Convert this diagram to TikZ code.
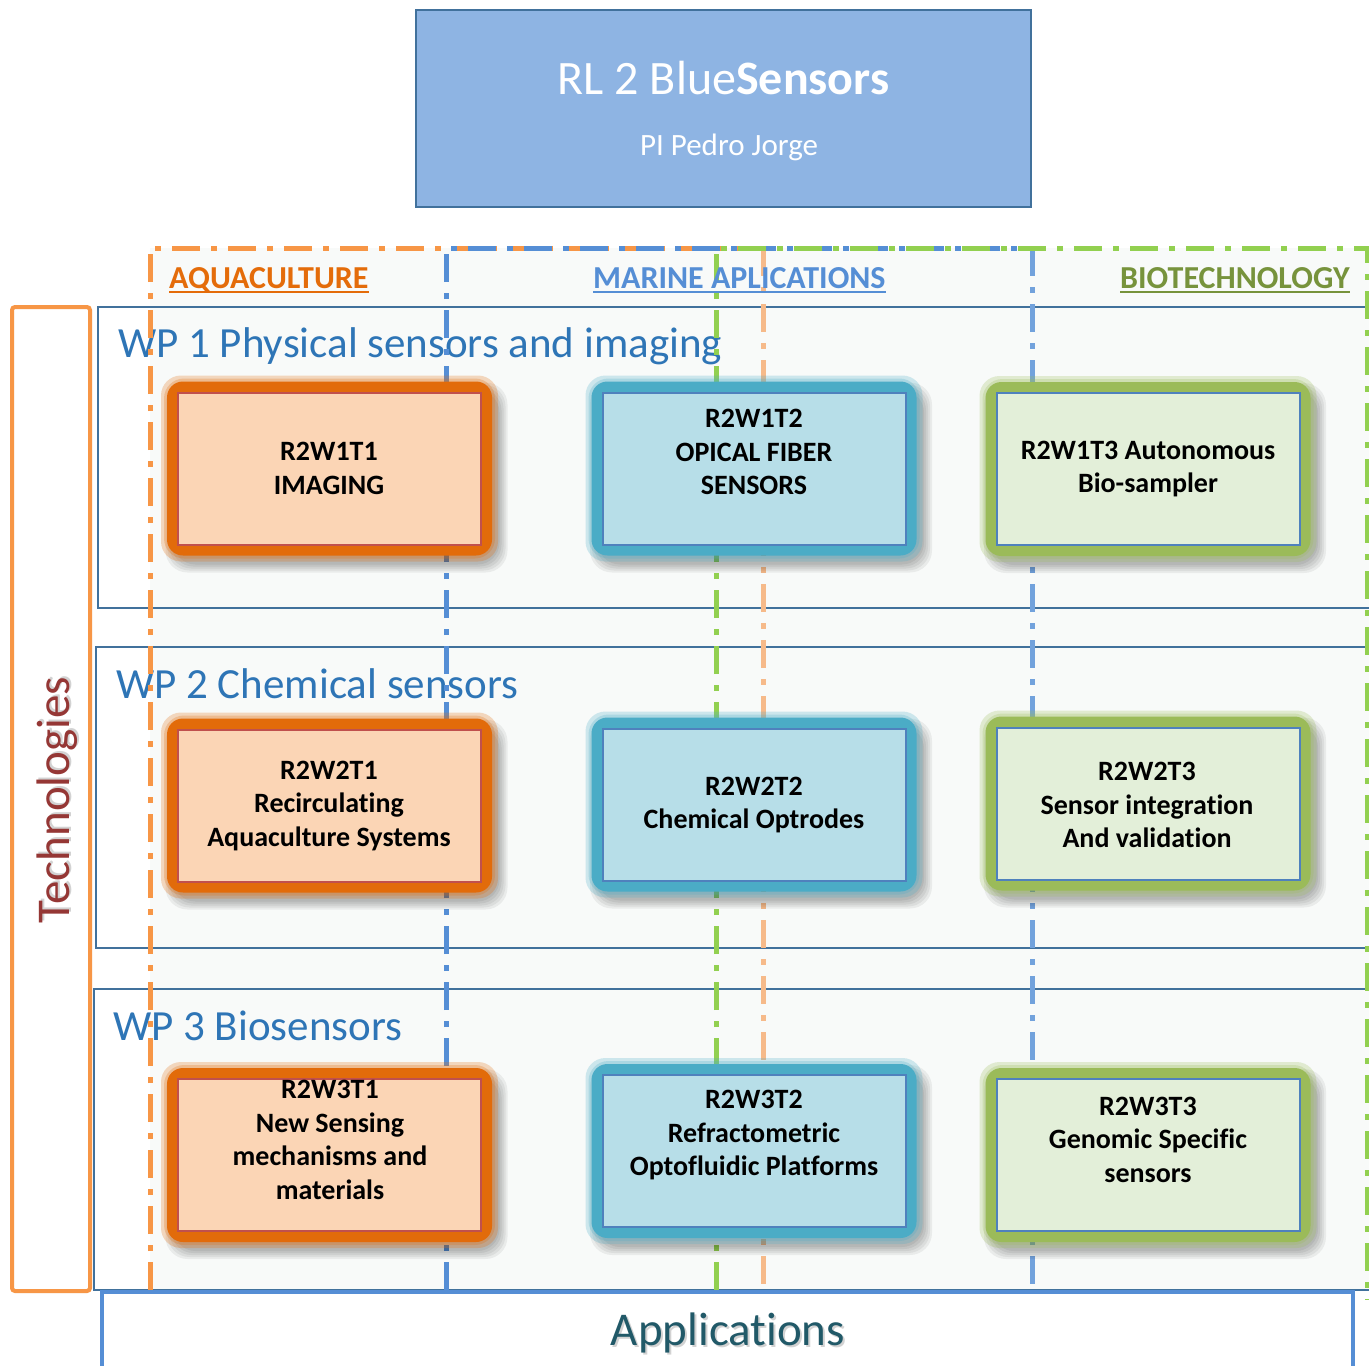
\documentclass[tikz,border=0pt]{standalone}
\usepackage{fontspec}
\setmainfont{Carlito}[Ligatures=NoCommon]
\definecolor{orangeDash}{HTML}{F79646}
\definecolor{orangeDashL}{HTML}{F6BA8A}
\definecolor{blueDash}{HTML}{558ED5}
\definecolor{blueDashL}{HTML}{72A2DC}
\definecolor{greenDash}{HTML}{92D050}
\definecolor{colbg}{HTML}{F8FAF9}
\definecolor{wpline}{HTML}{41719C}
\definecolor{wptext}{HTML}{2E75B6}
\definecolor{aquaC}{HTML}{E46C0A}
\definecolor{marineC}{HTML}{558ED5}
\definecolor{bioC}{HTML}{77933C}
\definecolor{techC}{HTML}{953735}
\definecolor{techBox}{HTML}{F79646}
\definecolor{appBox}{HTML}{558ED5}
\definecolor{appText}{HTML}{215968}
\definecolor{titleF}{HTML}{8EB4E3}
\definecolor{titleB}{HTML}{41719C}
\definecolor{oGlow}{HTML}{E26B0A}
\definecolor{oFill}{HTML}{FBD5B5}
\definecolor{oBord}{HTML}{C0504D}
\definecolor{bGlow}{HTML}{4BACC6}
\definecolor{bFill}{HTML}{B7DEE8}
\definecolor{bBord}{HTML}{4F81BD}
\definecolor{gGlow}{HTML}{9BBB59}
\definecolor{gFill}{HTML}{E3EFD9}
\definecolor{gBord}{HTML}{4F81BD}
\newcommand{\glowat}[3]{%
  \foreach \e in {0,2,4,6,8}{
    \fill[black, opacity=0.06, rounded corners=22pt] ({#1-156-\e},{#2-78-\e}) rectangle ({#1+170+\e},{#2+96+\e});
  }
  \foreach \e in {17,14}{
    \fill[#3, opacity=0.25, rounded corners=20pt] ({#1-151.5-\e},{#2-76-\e}) rectangle ({#1+151.5+\e},{#2+76+\e});
  }
  \fill[#3, rounded corners=16pt] ({#1-162.5},{#2-87}) rectangle ({#1+162.5},{#2+87});
}
\tikzset{
  dd/.style={line width=5pt, dash pattern=on 28pt off 11pt on 6pt off 11pt},
  wprect/.style={draw=wpline, line width=2pt},
  wptitle/.style={anchor=base west, inner sep=0, text=wptext, font=\fontsize{43}{50}\selectfont},
  hdr/.style={anchor=base west, inner sep=0, font=\bfseries\fontsize{32}{38}\selectfont},
  taskbox/.style={rectangle, inner sep=0, outer sep=0, line width=2pt, minimum width=303pt, minimum height=152pt},
  ttext/.style={align=center, inner sep=0, font=\bfseries\fontsize{28}{33.5}\selectfont, text=black},
}
\begin{document}
\begin{tikzpicture}[x=1pt,y=-1pt]
\useasboundingbox (0,0) rectangle (1369,1366);
\clip (0,0) rectangle (1369,1366);
\fill[white] (0,0) rectangle (1369,1366);
% column backdrop
\fill[colbg] (150,248) rectangle (1369,1290);
% WP rectangles
\draw[wprect] (98,307) rectangle (1390,608);
\draw[wprect] (96,647) rectangle (1390,948);
\draw[wprect] (94,989) rectangle (1390,1290);
\node[wptitle] (wp1) at (118,357) {WP 1 Physical sensors and imaging};
\node[wptitle] (wp2) at (116,698) {WP 2 Chemical sensors};
\node[wptitle] (wp3) at (113,1040) {WP 3 Biosensors};
% application columns (dash-dot)
\draw[dd, orangeDash] (150,1290) -- (150,248) -- (763,248);
\draw[dd, orangeDashL] (763,248) -- (763,1290);
\draw[dd, blueDash] (446,1290) -- (446,248) -- (1032,248);
\draw[dd, blueDashL] (1032,248) -- (1032,1290);
\draw[dd, greenDash] (716,1290) -- (716,248) -- (1367,248) -- (1367,1300);
% headers
\node[hdr, text=aquaC] (aqua) at (169,288) {AQUACULTURE};
\draw[aquaC, line width=2pt] ([yshift=-4pt]aqua.base west) -- ([yshift=-4pt]aqua.base east);
\node[hdr, text=marineC] (marine) at (593,288) {MARINE APLICATIONS};
\draw[marineC, line width=2pt] ([yshift=-4pt]marine.base west) -- ([yshift=-4pt]marine.base east);
\node[hdr, text=bioC] (bio) at (1120,288) {BIOTECHNOLOGY};
\draw[bioC, line width=2pt] ([yshift=-4pt]bio.base west) -- ([yshift=-4pt]bio.base east);
% task boxes row 1
\glowat{329.5}{468.5}{oGlow}
\node[taskbox, fill=oFill, draw=oBord] (b11) at (329.5,468.5) {};
\node[ttext] (t11) at (329,468.5) {R2W1T1\\IMAGING};
\glowat{754}{468.5}{bGlow}
\node[taskbox, fill=bFill, draw=bBord] (b12) at (754,468.5) {};
\node[ttext] (t12) at (754,452) {R2W1T2\\OPICAL FIBER\\SENSORS};
\glowat{1148}{469}{gGlow}
\node[taskbox, fill=gFill, draw=gBord] (b13) at (1148,469) {};
\node[ttext] (t13) at (1148,469) {R2W1T3 Autonomous\\Bio-sampler};
% row 2
\glowat{329.5}{805.5}{oGlow}
\node[taskbox, fill=oFill, draw=oBord] (b21) at (329.5,805.5) {};
\node[ttext] (t21) at (329,806) {R2W2T1\\Recirculating\\Aquaculture Systems};
\glowat{754}{804.5}{bGlow}
\node[taskbox, fill=bFill, draw=bBord] (b22) at (754,804.5) {};
\node[ttext] (t22) at (754,805) {R2W2T2\\Chemical Optrodes};
\glowat{1148}{803.5}{gGlow}
\node[taskbox, fill=gFill, draw=gBord] (b23) at (1148,803.5) {};
\node[ttext] (t23) at (1147,805) {R2W2T3\\Sensor integration\\And validation};
% row 3
\glowat{329.5}{1155}{oGlow}
\node[taskbox, fill=oFill, draw=oBord] (b31) at (329.5,1155) {};
\node[ttext] (t31) at (330,1140) {R2W3T1\\New Sensing\\mechanisms and\\materials};
\glowat{754}{1151}{bGlow}
\node[taskbox, fill=bFill, draw=bBord] (b32) at (754,1151) {};
\node[ttext] (t32) at (754,1135.5) {R2W3T2\\Refractometric\\Optofluidic Platforms};
\glowat{1148}{1155}{gGlow}
\node[taskbox, fill=gFill, draw=gBord] (b33) at (1148,1155) {};
\node[ttext] (t33) at (1148,1139.5) {R2W3T3\\Genomic Specific\\sensors};
% Technologies box
\draw[techBox, line width=4pt, rounded corners=3pt] (12,307) rectangle (90,1291);
\node[rotate=90, anchor=base, inner sep=0, text=black!35, opacity=0.5, font=\fontsize{47}{56}\selectfont] (techsh) at (71,798) {Technologies};
\node[rotate=90, anchor=base, inner sep=0, text=techC, font=\fontsize{47}{56}\selectfont] (tech) at (69,800) {Technologies};
% Applications box
\draw[appBox, line width=4pt, fill=white] (102,1400) -- (102,1292) -- (1353,1292) -- (1353,1400);
\node[anchor=base, inner sep=0, text=black!35, opacity=0.5, font=\fontsize{47}{56}\selectfont] (appsh) at (730,1347) {Applications};
\node[anchor=base, inner sep=0, text=appText, font=\fontsize{47}{56}\selectfont] (apps) at (728,1345) {Applications};
% Title box
\node[rectangle, fill=titleF, draw=titleB, line width=2.5pt, minimum width=615pt, minimum height=197pt, inner sep=0, outer sep=0] (title) at (723.5,108.5) {};
\node[anchor=base, inner sep=0, text=white, font=\fontsize{48}{56}\selectfont] (tname) at (723.5,94) {RL 2 Blue\textbf{Sensors}};
\node[anchor=base, inner sep=0, text=white, font=\fontsize{31}{37}\selectfont] (tpi) at (729,155) {PI Pedro Jorge};
\end{tikzpicture}
\end{document}
